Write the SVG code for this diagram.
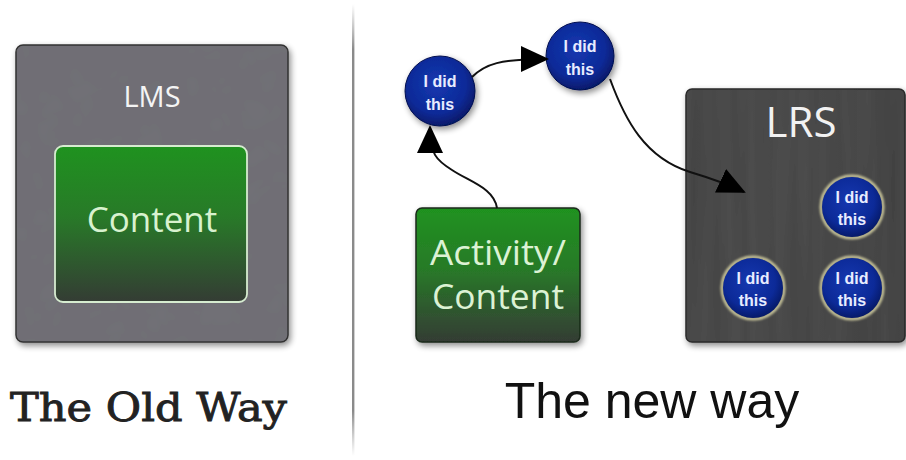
<svg xmlns="http://www.w3.org/2000/svg" width="906" height="460" viewBox="0 0 906 460">
  <style>
    .lbl-box { font-family: "Open Sans", "Noto Sans", "Liberation Sans", sans-serif; text-anchor: middle; }
    .did { font-family: "Liberation Sans", Arial, sans-serif; font-weight: bold; font-size: 16px; fill: #e8ecff; text-anchor: middle; }
    .conn { fill: none; stroke: #111; stroke-width: 2; }
  </style>
  <defs>
    <linearGradient id="greenFill" x1="0" y1="0" x2="0" y2="1">
      <stop offset="0" stop-color="#1f921f"/>
      <stop offset="0.45" stop-color="#287a28"/>
      <stop offset="1" stop-color="#343c34"/>
    </linearGradient>
    <linearGradient id="lmsFill" x1="0" y1="0" x2="0" y2="1">
      <stop offset="0" stop-color="#6d6c70"/>
      <stop offset="1" stop-color="#737278"/>
    </linearGradient>
    <linearGradient id="lrsFill" x1="0" y1="0" x2="1" y2="0">
      <stop offset="0" stop-color="#4a4a4a"/>
      <stop offset="0.3" stop-color="#585858"/>
      <stop offset="0.6" stop-color="#484848"/>
      <stop offset="1" stop-color="#3e3e3e"/>
    </linearGradient>
    <radialGradient id="ballFill" cx="0.45" cy="0.4" r="0.6">
      <stop offset="0" stop-color="#1638b0"/>
      <stop offset="0.7" stop-color="#0c2a98"/>
      <stop offset="1" stop-color="#061a6a"/>
    </radialGradient>
    <linearGradient id="divider" x1="0" y1="0" x2="0" y2="1">
      <stop offset="0" stop-color="#999" stop-opacity="0"/>
      <stop offset="0.1" stop-color="#8a8a8a"/>
      <stop offset="0.9" stop-color="#8a8a8a"/>
      <stop offset="1" stop-color="#999" stop-opacity="0"/>
    </linearGradient>
    <filter id="shadow" x="-30%" y="-30%" width="160%" height="160%">
      <feGaussianBlur in="SourceAlpha" stdDeviation="3"/>
      <feOffset dx="2" dy="3"/>
      <feComponentTransfer><feFuncA type="linear" slope="0.45"/></feComponentTransfer>
      <feMerge><feMergeNode/><feMergeNode in="SourceGraphic"/></feMerge>
    </filter>
    <filter id="glow" x="-30%" y="-30%" width="160%" height="160%">
      <feGaussianBlur in="SourceGraphic" stdDeviation="1.2"/>
    </filter>
    <filter id="brushed" x="0" y="0" width="100%" height="100%">
      <feTurbulence type="fractalNoise" baseFrequency="0.08 0.004" numOctaves="2" seed="3" result="n"/>
      <feColorMatrix in="n" type="matrix" values="0 0 0 0 0  0 0 0 0 0  0 0 0 0 0  0 0 0 0.35 0" result="streaks"/>
      <feComposite in="streaks" in2="SourceGraphic" operator="atop"/>
    </filter>
    <filter id="cracks" x="0" y="0" width="100%" height="100%">
      <feTurbulence type="turbulence" baseFrequency="0.03" numOctaves="2" seed="7" result="n"/>
      <feColorMatrix in="n" type="matrix" values="0 0 0 0 0.2  0 0 0 0 0.2  0 0 0 0 0.22  0 0 0 0.18 0" result="t"/>
      <feComposite in="t" in2="SourceGraphic" operator="atop"/>
    </filter>
    <marker id="arrow" markerUnits="userSpaceOnUse" markerWidth="28" markerHeight="26" viewBox="0 0 28 26" refX="26" refY="13" orient="auto">
      <path d="M0,0 L28,13 L0,26 z" fill="#000"/>
    </marker>
  </defs>

  <rect width="906" height="460" fill="#ffffff"/>

  <!-- divider between the two halves -->
  <rect x="352" y="4" width="2.4" height="452" fill="url(#divider)"/>

  <!-- left: LMS wrapping content -->
  <g id="lms">
    <rect x="16" y="45" width="272" height="297" rx="7" fill="url(#lmsFill)" stroke="#333" stroke-width="1.5" filter="url(#shadow)"/>
    <rect x="17" y="46" width="270" height="295" rx="6" fill="#6f6e74" filter="url(#cracks)"/>
    <text x="152" y="107" class="lbl-box" font-size="29" fill="#f4f4f4">LMS</text>
  </g>
  <g id="content">
    <rect x="55" y="146" width="192" height="156" rx="8" fill="url(#greenFill)" stroke="#d6ecd0" stroke-width="1.8"/>
    <text x="152" y="232" class="lbl-box" font-size="35" fill="#d8f2cf">Content</text>
  </g>
  <text id="old-way" x="10" y="421" font-family="'DejaVu Serif', 'Liberation Serif', serif" font-size="40" fill="#222" stroke="#222" stroke-width="0.9" textLength="277" lengthAdjust="spacingAndGlyphs">The Old Way</text>

  <!-- right: statements flowing into the LRS -->
  <g id="lrs">
    <rect x="686" y="89" width="219" height="253" rx="6" fill="url(#lrsFill)" stroke="#2a2a2a" stroke-width="1.5" filter="url(#shadow)"/>
    <rect x="687" y="90" width="217" height="251" rx="5" fill="#4f4f4f" filter="url(#brushed)" opacity="0.85"/>
    <text x="801" y="137" class="lbl-box" font-size="42" fill="#f2f2f2">LRS</text>
  </g>

  <g id="activity">
    <rect x="416" y="208" width="164" height="134" rx="6" fill="url(#greenFill)" stroke="#1a2a1a" stroke-width="1.5" filter="url(#shadow)"/>
    <text x="498" y="265" class="lbl-box" font-size="34" fill="#dcf2d4" textLength="136" lengthAdjust="spacingAndGlyphs">Activity/</text>
    <text x="498" y="309" class="lbl-box" font-size="34" fill="#dcf2d4" textLength="132" lengthAdjust="spacingAndGlyphs">Content</text>
  </g>

  <g id="statement-1">
    <circle cx="440" cy="91" r="35" fill="url(#ballFill)" stroke="#041050" stroke-width="1" filter="url(#shadow)"/>
    <text x="440" y="87" class="did">I did</text>
    <text x="440" y="110" class="did">this</text>
  </g>
  <g id="statement-2">
    <circle cx="580" cy="56" r="34" fill="url(#ballFill)" stroke="#041050" stroke-width="1" filter="url(#shadow)"/>
    <text x="580" y="52" class="did">I did</text>
    <text x="580" y="75" class="did">this</text>
  </g>
  <g id="stored-1">
    <circle cx="852" cy="207" r="31" fill="none" stroke="#c8c49a" stroke-width="3" filter="url(#glow)"/>
    <circle cx="852" cy="207" r="30" fill="url(#ballFill)"/>
    <text x="852" y="203" class="did" font-size="15">I did</text>
    <text x="852" y="225" class="did" font-size="15">this</text>
  </g>
  <g id="stored-2">
    <circle cx="753" cy="288" r="31" fill="none" stroke="#c8c49a" stroke-width="3" filter="url(#glow)"/>
    <circle cx="753" cy="288" r="30" fill="url(#ballFill)"/>
    <text x="753" y="284" class="did" font-size="15">I did</text>
    <text x="753" y="306" class="did" font-size="15">this</text>
  </g>
  <g id="stored-3">
    <circle cx="852" cy="288" r="31" fill="none" stroke="#c8c49a" stroke-width="3" filter="url(#glow)"/>
    <circle cx="852" cy="288" r="30" fill="url(#ballFill)"/>
    <text x="852" y="284" class="did" font-size="15">I did</text>
    <text x="852" y="306" class="did" font-size="15">this</text>
  </g>

  <g id="connectors">
    <path class="conn" d="M497,208 C494,188 470,182 452,170 C436,160 430,154 430,127" marker-end="url(#arrow)"/>
    <path class="conn" d="M472,77 C485,64 500,59 547,59" marker-end="url(#arrow)"/>
    <path class="conn" d="M610,79 C625,120 645,158 690,172 C710,178 725,183 744,192" marker-end="url(#arrow)"/>
  </g>

  <text id="new-way" x="652" y="418" font-family="'Liberation Sans', Arial, sans-serif" font-size="50" fill="#111" text-anchor="middle">The new way</text>
</svg>
